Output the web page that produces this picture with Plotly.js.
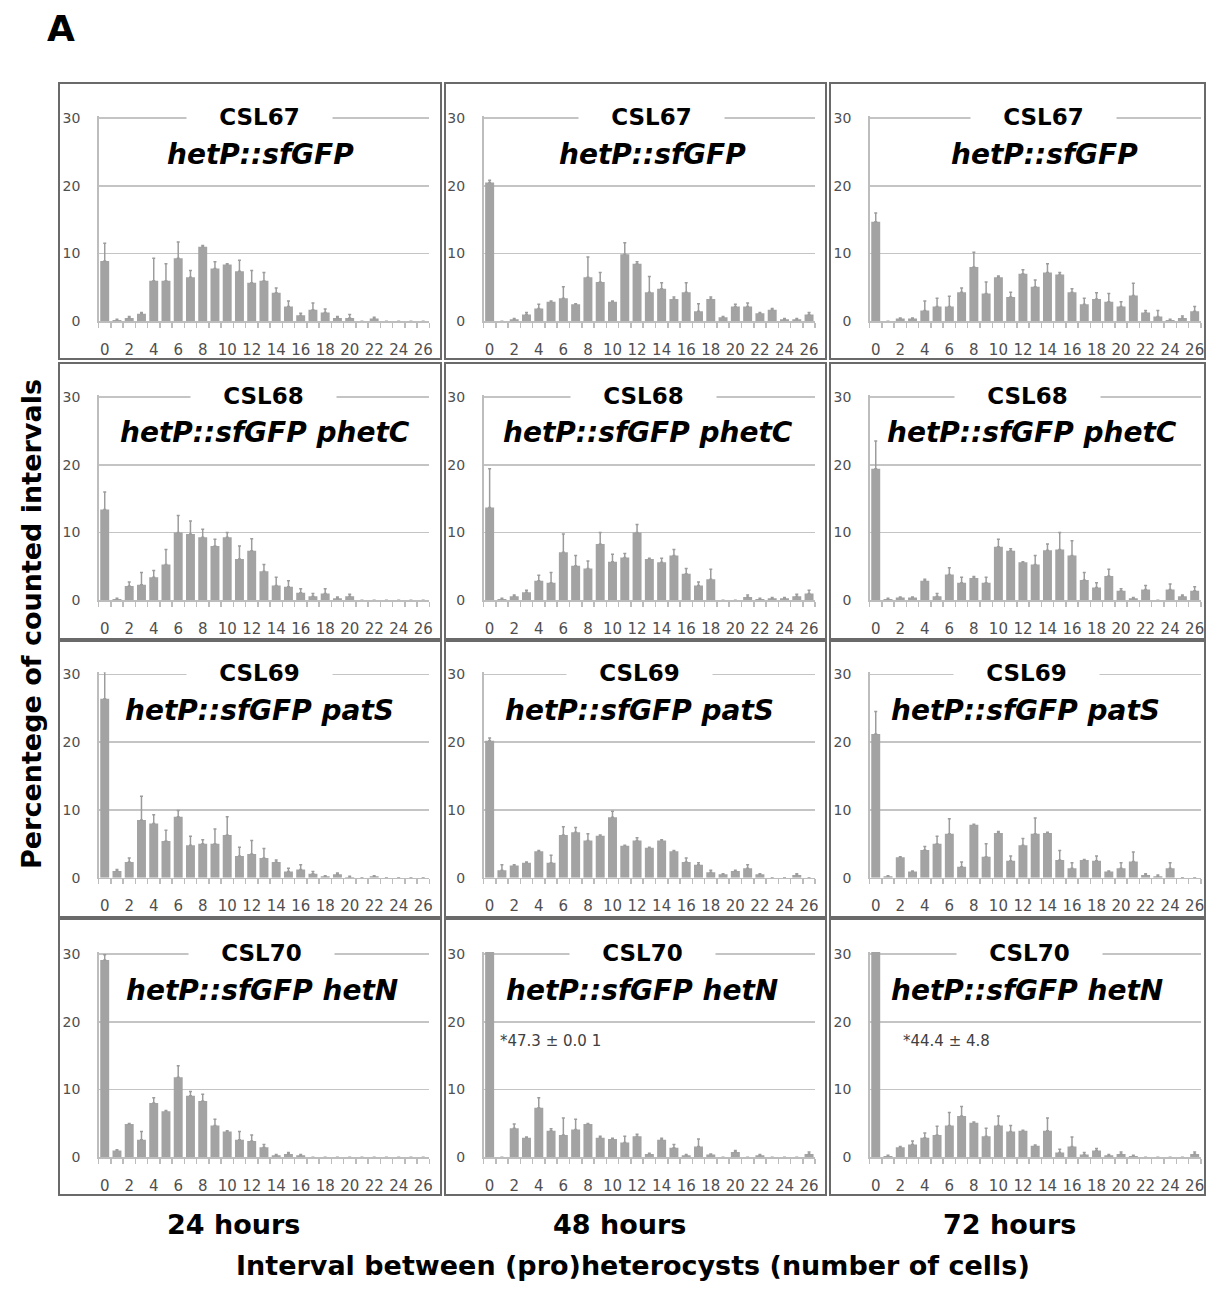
<!DOCTYPE html>
<html><head><meta charset="utf-8">
<script src="https://cdn.plot.ly/plotly-3.0.1.min.js"></script>
<style>html,body{margin:0;padding:0;background:#fff}</style>
</head><body>
<div id="chart" style="width:1207px;height:1290px"></div>
<script>
// ---------------- DATA ----------------
const categories = [0,1,2,3,4,5,6,7,8,9,10,11,12,13,14,15,16,17,18,19,20,21,22,23,24,25,26];
const xTickValues = [0,2,4,6,8,10,12,14,16,18,20,22,24,26];
const xTickLabels = ['0','2','4','6','8','10','12','14','16','18','20','22','24','26'];
const yTickValues = [0,10,20,30];
const yTickLabels = ['0','10','20','30'];
const strains = ['CSL67','CSL68','CSL69','CSL70'];
const genotypes = ['hetP::sfGFP','hetP::sfGFP phetC','hetP::sfGFP patS','hetP::sfGFP hetN'];
const timeLabels = ['24 hours','48 hours','72 hours'];
const xAxisTitle = 'Interval between (pro)heterocysts (number of cells)';
const yAxisTitle = 'Percentege of counted intervals';
const panelLetter = 'A';
const offscaleNotes = {csl70_48h: '*47.3 ± 0.0 1', csl70_72h: '*44.4 ± 4.8'};

const csl67_24h     = [8.9,0.2,0.5,1.1,6.0,6.0,9.3,6.5,11.0,7.8,8.4,7.4,5.7,6.0,4.2,2.2,0.9,1.7,1.3,0.5,0.5,0,0.4,0,0,0,0];
const csl67_24h_err = [2.6,0.1,0.2,0.2,3.3,2.5,2.4,1.0,0.2,1.0,0.1,1.6,1.8,1.2,0.7,0.8,0.3,1.0,0.5,0.2,0.5,0,0.2,0,0,0,0];
const csl67_48h     = [20.5,0,0.3,1.0,1.9,2.9,3.4,2.5,6.5,5.8,2.9,9.9,8.5,4.3,4.8,3.3,4.3,1.5,3.3,0.6,2.2,2.2,1.2,1.7,0.3,0.3,1.0];
const csl67_48h_err = [0.3,0,0.1,0.3,0.6,0.1,1.7,0.1,3.0,1.4,0.1,1.7,0.3,2.3,0.9,0.3,1.4,1.1,0.3,0.1,0.3,0.5,0.1,0.2,0.1,0.1,0.3];
const csl67_72h     = [14.7,0,0.4,0.4,1.6,2.2,2.2,4.3,8.0,4.1,6.5,3.6,7.0,5.1,7.2,6.9,4.3,2.5,3.3,2.9,2.2,3.8,1.3,0.7,0.2,0.5,1.5];
const csl67_72h_err = [1.3,0,0.1,0.1,1.4,1.2,1.5,0.6,2.2,1.7,0.2,0.7,0.6,1.0,1.3,0.3,0.5,0.9,0.9,1.2,0.7,1.8,0.3,0.9,0.1,0.3,0.7];

const csl68_24h     = [13.4,0.2,2.1,2.3,3.4,5.3,10.0,9.8,9.3,8.0,9.3,6.1,7.3,4.3,2.2,2.0,1.1,0.6,1.0,0.3,0.6,0,0,0,0,0,0];
const csl68_24h_err = [2.6,0.1,0.6,1.8,1.0,2.2,2.5,1.9,1.2,1.0,0.7,1.9,1.8,1.0,1.2,0.9,0.6,0.4,0.7,0.2,0.3,0,0,0,0,0,0];
const csl68_48h     = [13.7,0.2,0.6,1.2,2.9,2.6,7.1,5.1,4.7,8.3,5.7,6.3,10.0,6.1,5.6,6.6,3.9,2.2,3.1,0,0,0.5,0.2,0.3,0.3,0.6,1.0];
const csl68_48h_err = [5.7,0.1,0.2,0.3,0.8,1.5,2.7,1.5,1.1,1.7,1.1,0.6,1.2,0.1,0.6,0.9,0.8,0.5,1.5,0,0,0.3,0.1,0.1,0.1,0.3,0.5];
const csl68_72h     = [19.4,0.2,0.4,0.4,2.9,0.6,3.8,2.6,3.3,2.6,7.9,7.3,5.6,5.3,7.4,7.5,6.6,3.0,1.9,3.6,1.4,0.3,1.6,0,1.6,0.6,1.4];
const csl68_72h_err = [4.1,0.1,0.1,0.1,0.2,0.4,1.0,0.8,0.2,0.8,1.1,0.3,0.1,1.3,0.9,2.5,2.2,1.1,0.7,1.0,0.3,0.1,0.6,0,0.8,0.2,0.6];

const csl69_24h     = [26.4,1.0,2.3,8.5,8.0,5.4,9.0,4.8,5.0,5.0,6.3,3.2,3.5,2.9,2.3,0.9,1.2,0.6,0.2,0.5,0.1,0,0.2,0,0,0,0];
const csl69_24h_err = [4.0,0.2,0.6,3.5,1.3,1.6,0.9,1.3,0.6,2.2,2.7,1.3,2.0,1.4,0.3,0.5,0.7,0.3,0.1,0.2,0.1,0,0.1,0,0,0,0];
const csl69_48h     = [20.2,1.1,1.8,2.2,3.9,2.2,6.3,6.7,5.5,6.2,8.9,4.7,5.5,4.4,5.5,3.9,2.3,1.9,0.8,0.5,1.0,1.4,0.5,0,0,0.4,0];
const csl69_48h_err = [0.4,0.8,0.1,0.1,0.1,1.1,1.2,0.7,1.0,0.1,0.9,0.1,0.4,0.1,0.1,0.1,0.6,0.3,0.3,0.1,0.1,0.5,0.1,0,0,0.2,0];
const csl69_72h     = [21.2,0.2,3.0,0.9,4.1,5.0,6.5,1.6,7.8,3.1,6.6,2.5,4.8,6.5,6.6,2.6,1.4,2.6,2.5,0.9,1.4,2.4,0.4,0.2,1.4,0,0];
const csl69_72h_err = [3.3,0.1,0.1,0.1,0.5,1.1,2.2,0.7,0.1,1.9,0.2,0.7,1.0,2.3,0.1,1.4,0.8,0.1,0.7,0.1,0.8,1.4,0.2,0.2,0.8,0,0];

const csl70_24h     = [29.1,1.0,4.9,2.6,8.0,6.8,11.8,9.1,8.3,4.7,3.8,2.6,2.4,1.5,0.3,0.5,0.3,0,0,0,0,0,0,0,0,0,0];
const csl70_24h_err = [0.8,0.1,0.1,1.2,0.8,0.1,1.7,0.6,1.0,0.9,0.1,1.2,0.9,0.4,0.1,0.2,0.1,0,0,0,0,0,0,0,0,0,0];
const csl70_48h     = [47.3,0,4.3,2.9,7.3,3.9,3.3,4.1,4.9,2.9,2.7,2.2,3.1,0.5,2.6,1.4,0.3,1.6,0.4,0,0.8,0,0.3,0,0,0,0.5];
const csl70_48h_err = [0.01,0,0.6,0.1,1.5,0.3,2.5,1.5,0.1,0.2,0.1,0.9,0.3,0.1,0.2,0.5,0.1,1.1,0.1,0,0.2,0,0.1,0,0,0,0.3];
const csl70_72h     = [44.4,0.2,1.5,1.9,2.9,3.3,4.7,6.1,5.1,3.1,4.7,3.8,3.9,1.7,3.9,0.7,1.6,0.4,1.0,0.3,0.5,0.2,0,0,0,0,0.5];
const csl70_72h_err = [4.8,0.1,0.1,0.5,0.7,1.3,1.9,1.4,0.1,1.2,1.4,0.9,0.1,0.1,1.9,0.5,1.4,0.3,0.3,0.1,0.3,0.1,0,0,0,0,0.3];

const panelSeries = [
  [[csl67_24h,csl67_24h_err],[csl67_48h,csl67_48h_err],[csl67_72h,csl67_72h_err]],
  [[csl68_24h,csl68_24h_err],[csl68_48h,csl68_48h_err],[csl68_72h,csl68_72h_err]],
  [[csl69_24h,csl69_24h_err],[csl69_48h,csl69_48h_err],[csl69_72h,csl69_72h_err]],
  [[csl70_24h,csl70_24h_err],[csl70_48h,csl70_48h_err],[csl70_72h,csl70_72h_err]]
];

// ---------------- LAYOUT GEOMETRY (pixels) ----------------
const W = 1207, H = 1290;
const px = v => v / W;
const py = v => 1 - v / H;
const colX = [[98.6,429.3],[483.5,815.2],[869.6,1200.8]];
const rowY = [[118,321.3],[397,600.3],[674.3,877.7],[954,1157.3]];   // pixel rows of value 30 and 0
const Y_TOP = 30.3;                                                    // headroom so the 30 gridline is drawn
const boxX = [[59,441],[445,826],[830,1205]];
const boxY = [[83,359],[363,639],[641,917],[919,1195]];
const titleCX = [[260,652,1044],[265,648,1032],[259,639,1025],[262,642,1027]];
const strainCX = [[259,651,1043],[263,643,1027],[259,639,1026],[261,642,1029]];
const timeCX = [233,619,1010];

const FONT = 'DejaVu Sans';
const GRID = '#c4c4c4';
const AXIS = '#bdbdbd';
const BAR = '#a3a3a3';
const TICKC = '#4f4f4f';

const data = [];
const layout = {
  width: W, height: H,
  margin: {l:0, r:0, t:0, b:0},
  paper_bgcolor: '#ffffff',
  plot_bgcolor: 'rgba(0,0,0,0)',
  showlegend: false,
  bargap: 0.27,
  annotations: [],
  shapes: []
};

const boundaries = categories.map(c => c - 0.5).concat([categories[categories.length-1] + 0.5]);

for (let r = 0; r < 4; r++) {
  const pxPerUnit = (rowY[r][1] - rowY[r][0]) / 30;
  const topPx = rowY[r][0] - (Y_TOP - 30) * pxPerUnit;
  for (let c = 0; c < 3; c++) {
    const idx = r*3 + c + 1;
    const xa = 'xaxis' + (idx === 1 ? '' : idx);
    const ya = 'yaxis' + (idx === 1 ? '' : idx);
    const xr = 'x' + (idx === 1 ? '' : idx);
    const yr = 'y' + (idx === 1 ? '' : idx);
    const [vals, errs] = panelSeries[r][c];
    data.push({
      type: 'bar', x: categories, y: vals,
      xaxis: xr, yaxis: yr,
      marker: {color: BAR, line: {width: 0}},
      error_y: {type: 'data', symmetric: false, array: errs,
                arrayminus: errs.map(() => 0), color: '#9c9c9c', thickness: 1.5, width: 1.5},
      hoverinfo: 'skip'
    });
    layout[xa] = {
      domain: [px(colX[c][0]), px(colX[c][1])],
      anchor: yr,
      range: [-0.5, 26.5],
      tickmode: 'array', tickvals: xTickValues, ticktext: xTickLabels,
      ticks: '',
      showline: true, linecolor: AXIS, linewidth: 1.5,
      showgrid: false, zeroline: false,
      tickfont: {family: FONT, size: 15, color: TICKC},
      ticklabelstandoff: 14,
      minor: {tickmode: 'array', tickvals: boundaries, ticks: 'outside', ticklen: 5,
              tickcolor: AXIS, tickwidth: 1.5, showgrid: false},
      fixedrange: true
    };
    layout[ya] = {
      domain: [py(rowY[r][1]), py(topPx)],
      anchor: xr,
      range: [0, Y_TOP],
      tickmode: 'array', tickvals: yTickValues, ticktext: yTickLabels,
      ticks: '',
      showline: true, linecolor: AXIS, linewidth: 1.5,
      showgrid: true, gridcolor: GRID, gridwidth: 1.5,
      zeroline: false,
      tickfont: {family: FONT, size: 14, color: TICKC},
      ticklabelstandoff: 14,
      fixedrange: true
    };
    // panel frame
    layout.shapes.push({type: 'rect', xref: 'paper', yref: 'paper',
      x0: px(boxX[c][0]), x1: px(boxX[c][1]), y0: py(boxY[r][1]), y1: py(boxY[r][0]),
      line: {color: '#6a6a6a', width: 2}, fillcolor: 'rgba(0,0,0,0)', layer: 'below'});
    // strain name (covers top gridline)
    layout.annotations.push({xref: 'paper', yref: 'paper',
      x: px(strainCX[r][c]), y: py(rowY[r][0] - 1), xanchor: 'center', yanchor: 'middle',
      text: '<b>' + strains[r] + '</b>', showarrow: false,
      bgcolor: '#ffffff', width: 143, height: 26,
      font: {family: FONT, size: 23, color: '#000000'}});
    // genotype
    layout.annotations.push({xref: 'paper', yref: 'paper',
      x: px(titleCX[r][c]), y: py(rowY[r][0] + 36), xanchor: 'center', yanchor: 'middle',
      text: '<b><i>' + genotypes[r] + '</i></b>', showarrow: false,
      font: {family: FONT, size: 28, color: '#000000'}});
  }
}

// off-scale notes for the clipped 0-interval bars
layout.annotations.push({xref: 'x11', yref: 'y11', x: 0.68, y: 17.2, xanchor: 'left', yanchor: 'middle',
  text: offscaleNotes.csl70_48h, showarrow: false, font: {family: FONT, size: 15, color: '#404040'}});
layout.annotations.push({xref: 'x12', yref: 'y12', x: 2.06, y: 17.2, xanchor: 'left', yanchor: 'middle',
  text: offscaleNotes.csl70_72h, showarrow: false, font: {family: FONT, size: 15, color: '#404040'}});

// time labels
timeLabels.forEach((t, i) => {
  layout.annotations.push({xref: 'paper', yref: 'paper', x: px(timeCX[i]), y: py(1224),
    xanchor: 'center', yanchor: 'middle', text: '<b>' + t + '</b>', showarrow: false,
    font: {family: FONT, size: 27, color: '#000000'}});
});
// common x title
layout.annotations.push({xref: 'paper', yref: 'paper', x: px(632.5), y: py(1265),
  xanchor: 'center', yanchor: 'middle', text: '<b>' + xAxisTitle + '</b>', showarrow: false,
  font: {family: FONT, size: 27, color: '#000000'}});
// common y title
layout.annotations.push({xref: 'paper', yref: 'paper', x: px(31), y: py(624),
  xanchor: 'center', yanchor: 'middle', textangle: -90, text: '<b>' + yAxisTitle + '</b>', showarrow: false,
  font: {family: FONT, size: 27, color: '#000000'}});
// panel letter
layout.annotations.push({xref: 'paper', yref: 'paper', x: px(61), y: py(29),
  xanchor: 'center', yanchor: 'middle', text: '<b>' + panelLetter + '</b>', showarrow: false,
  font: {family: FONT, size: 36, color: '#000000'}});

Plotly.newPlot('chart', data, layout, {staticPlot: true, displayModeBar: false});
</script>
</body></html>
